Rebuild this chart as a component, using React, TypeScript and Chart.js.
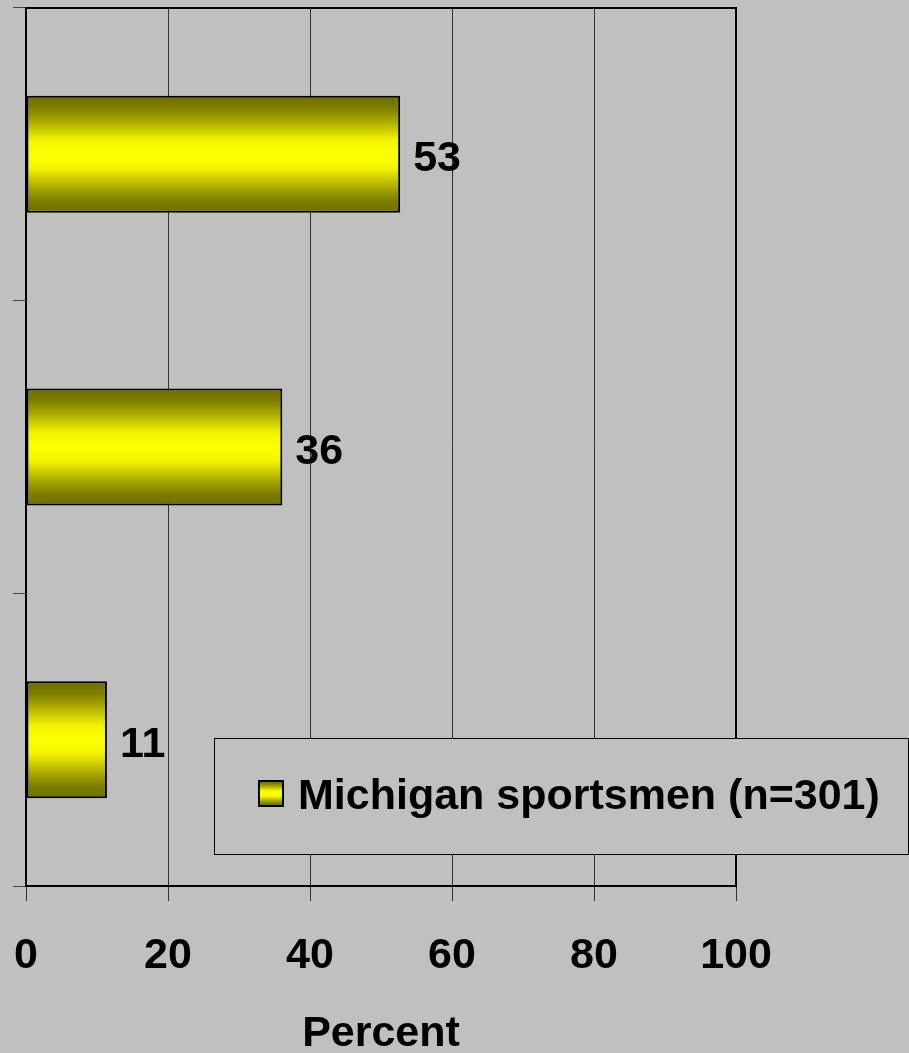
import React, { useEffect, useRef } from "react";
import { Chart, registerables } from "chart.js";
Chart.register(...registerables);

const categories = ["Group 1", "Group 2", "Group 3"];
const values = [52.7, 36.1, 11.4];
const seriesLabel = "Michigan sportsmen (n=301)";
const xTicks = [0, 20, 40, 60, 80, 100];
const xTitle = "Percent";

const FONT = "'Liberation Sans', Arial, Helvetica, sans-serif";
const BG = "#C0C0C0";
const BAR_PCT = 0.4;

function makeGradient(ctx: CanvasRenderingContext2D, top: number, bottom: number) {
  if (!isFinite(top) || !isFinite(bottom) || top === bottom) return "#FFFF00";
  const g = ctx.createLinearGradient(0, top, 0, bottom);
  const stops: [number, string][] = [
    [0, "#6E6E00"],
    [0.1, "#7D7D00"],
    [0.2, "#A3A300"],
    [0.3, "#CFCF00"],
    [0.38, "#F3F300"],
    [0.5, "#FFFF00"],
    [0.62, "#F3F300"],
    [0.7, "#CFCF00"],
    [0.8, "#A3A300"],
    [0.9, "#7D7D00"],
    [1, "#6E6E00"],
  ];
  stops.forEach(([o, c]) => g.addColorStop(o, c));
  return g;
}

const bgPlugin = {
  id: "bgFill",
  beforeDraw(chart: any) {
    const { ctx, width, height } = chart;
    ctx.save();
    ctx.fillStyle = BG;
    ctx.fillRect(0, 0, width, height);
    ctx.restore();
  },
};

const frameAndLabels = {
  id: "frameAndLabels",
  afterDatasetsDraw(chart: any) {
    const { ctx, chartArea } = chart;
    ctx.save();
    ctx.strokeStyle = "#000";
    ctx.lineWidth = 2;
    ctx.strokeRect(chartArea.left, chartArea.top, chartArea.right - chartArea.left, chartArea.bottom - chartArea.top);
    const meta = chart.getDatasetMeta(0);
    ctx.fillStyle = "#000";
    ctx.font = `bold 43px ${FONT}`;
    ctx.textAlign = "left";
    ctx.textBaseline = "middle";
    meta.data.forEach((el: any, i: number) => {
      ctx.fillText(String(Math.round(values[i])), el.x + 13, el.y + 5);
    });
    ctx.restore();
  },
  afterDraw(chart: any) {
    const { ctx } = chart;
    const ds = chart.data.datasets[0];
    ctx.save();
    const bx = 214.5, by = 738.5, bw = 694, bh = 116;
    ctx.fillStyle = BG;
    ctx.fillRect(bx, by, bw, bh);
    ctx.strokeStyle = "#000";
    ctx.lineWidth = 1;
    ctx.strokeRect(bx, by, bw, bh);
    const sx = 259, sy = 781, sw = 24, sh = 25;
    ctx.fillStyle = makeGradient(ctx, sy, sy + sh);
    ctx.fillRect(sx, sy, sw, sh);
    ctx.lineWidth = 2;
    ctx.strokeRect(sx, sy, sw, sh);
    ctx.fillStyle = "#000";
    ctx.font = `bold 43px ${FONT}`;
    ctx.textAlign = "left";
    ctx.textBaseline = "middle";
    ctx.fillText(ds.label, 298, 797);
    ctx.restore();
  },
};

export default function App() {
  const ref = useRef<HTMLCanvasElement | null>(null);
  useEffect(() => {
    if (!ref.current) return;
    const chart = new Chart(ref.current, {
      type: "bar",
      data: {
        labels: categories,
        datasets: [
          {
            label: seriesLabel,
            data: values,
            backgroundColor: (c: any) => {
              const ch = c.chart;
              const y = ch.scales && ch.scales.y;
              if (!y || c.dataIndex === undefined) return "#FFFF00";
              const center = y.getPixelForValue(c.dataIndex);
              const half = ((y.bottom - y.top) / categories.length) * BAR_PCT / 2;
              return makeGradient(ch.ctx, center - half, center + half);
            },
            borderColor: "#000",
            borderWidth: 2,
            borderSkipped: false,
            barPercentage: BAR_PCT,
            categoryPercentage: 1,
          },
        ],
      },
      options: {
        indexAxis: "y",
        responsive: false,
        animation: false,
        devicePixelRatio: 1,
        layout: { padding: { top: 8, right: 173, left: 0, bottom: 0 } },
        plugins: {
          legend: { display: false },
          tooltip: { enabled: false },
        },
        scales: {
          x: {
            type: "linear",
            min: 0,
            max: 100,
            afterBuildTicks: (s: any) => {
              s.ticks = xTicks.map((v) => ({ value: v }));
            },
            afterFit: (s: any) => {
              s.height = 167;
              s.paddingLeft = 0;
              s.paddingRight = 0;
            },
            grid: { color: "#333", lineWidth: 1, tickLength: 15, drawTicks: true },
            border: { color: "#000", width: 2 },
            ticks: {
              color: "#000",
              padding: 29,
              maxRotation: 0,
              autoSkip: false,
              font: { family: FONT, size: 43, weight: "bold" },
            },
            title: {
              display: true,
              text: xTitle,
              color: "#000",
              padding: { top: 0, bottom: 0 },
              font: { family: FONT, size: 43, weight: "bold", lineHeight: 0.86 },
            },
          },
          y: {
            type: "category",
            afterFit: (s: any) => {
              s.width = 26;
              s.paddingTop = 0;
              s.paddingBottom = 0;
            },
            grid: { drawOnChartArea: false, drawTicks: true, tickLength: 13, color: "#444", offset: true },
            border: { color: "#000", width: 2 },
            ticks: { display: false },
          },
        },
      },
      plugins: [bgPlugin, frameAndLabels],
    } as any);
    return () => chart.destroy();
  }, []);
  return (
    <div style={{ position: "absolute", left: 0, top: 0, width: 909, height: 1053, background: BG }}>
      <canvas ref={ref} width={909} height={1053} style={{ display: "block" }} />
    </div>
  );
}
